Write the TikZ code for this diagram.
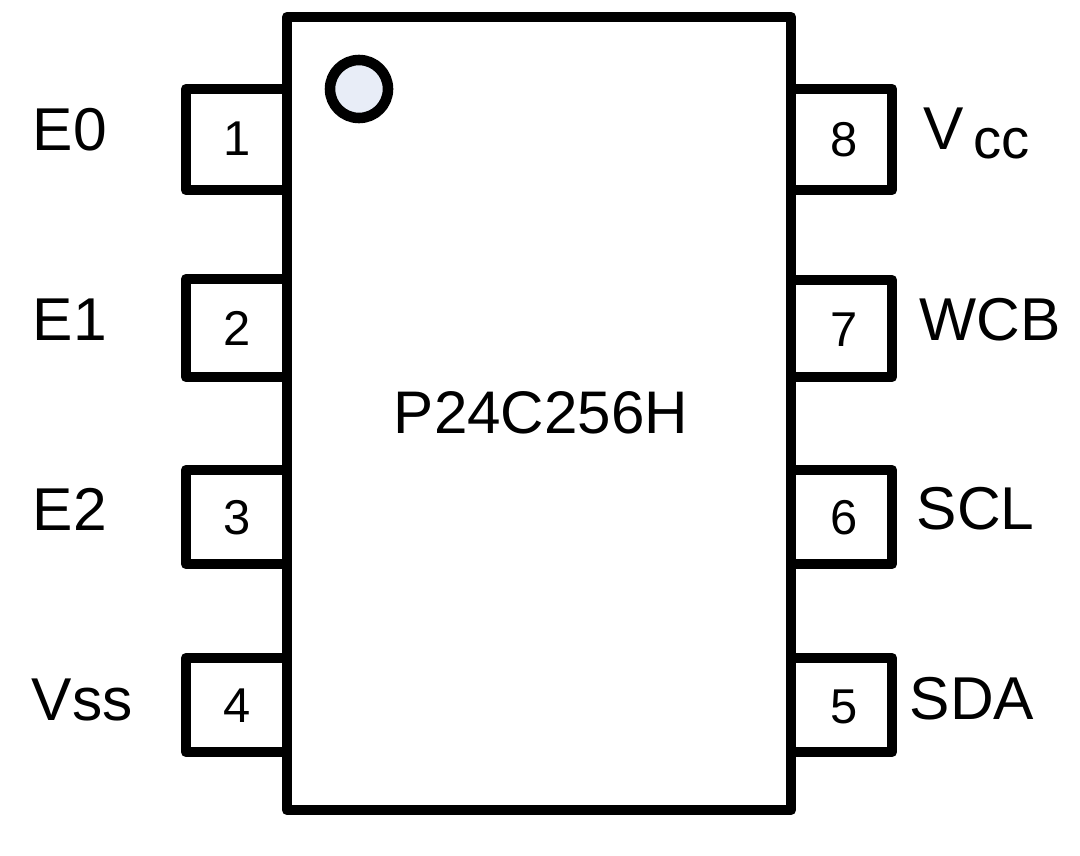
\documentclass[tikz,border=0pt]{standalone}
\usepackage{fontspec}
\setmainfont{Liberation Sans}
\definecolor{dotfill}{HTML}{E8EDF7}
\tikzset{
  outline/.style = {draw=black,line width=3pt,line join=round},
  pinlabel/.style = {inner sep=0pt,anchor=base west,font=\fontsize{17.2}{20}\selectfont},
  pinnum/.style = {inner sep=0pt,anchor=base,font=\fontsize{13.9}{16}\selectfont},
  chipname/.style = {inner sep=0pt,anchor=base,font=\fontsize{17.1}{21}\selectfont}
}

\begin{document}
\begin{tikzpicture}[x=0.01cm,y=-0.01cm]
  \useasboundingbox (0,0) rectangle (1080,855);
  \draw[outline] (287,17) rectangle (791,810);
  \draw[outline] (287,89) -- (186,89) -- (186,190) -- (287,190);
  \draw[outline] (287,279) -- (186,279) -- (186,377) -- (287,377);
  \draw[outline] (287,470) -- (186,470) -- (186,564) -- (287,564);
  \draw[outline] (287,658) -- (186,658) -- (186,752) -- (287,752);
  \draw[outline] (791,89) -- (892,89) -- (892,190) -- (791,190);
  \draw[outline] (791,280) -- (892,280) -- (892,377) -- (791,377);
  \draw[outline] (791,470) -- (892,470) -- (892,564) -- (791,564);
  \draw[outline] (791,658) -- (892,658) -- (892,752) -- (791,752);
  \draw[outline,fill=dotfill] (359,89) circle (29);
  \node[chipname] (name) at (541,433) {P24C256H};
  \node[pinnum] (n1) at (237,156) {1};
  \node[pinnum] (n2) at (237,345) {2};
  \node[pinnum] (n3) at (237,534) {3};
  \node[pinnum] (n4) at (237,722) {4};
  \node[pinnum] (n5) at (844,723) {5};
  \node[pinnum] (n6) at (844,534) {6};
  \node[pinnum] (n7) at (844,346) {7};
  \node[pinnum] (n8) at (844,157) {8};
  \node[pinlabel] (e0) at (32,151) {E0};
  \node[pinlabel] (e1) at (32,340) {E1};
  \node[pinlabel] (e2) at (32,530) {E2};
  \node[pinlabel] (vss) at (31,720) {Vss};
  \node[pinlabel] (vcc) at (923,150) {V\raisebox{-2.3pt}{\fontsize{16}{18}\selectfont\,cc}};
  \node[pinlabel] (wcb) at (919,340) {WCB};
  \node[pinlabel] (scl) at (916,529) {SCL};
  \node[pinlabel] (sda) at (909,719) {SDA};
\end{tikzpicture}
\end{document}
